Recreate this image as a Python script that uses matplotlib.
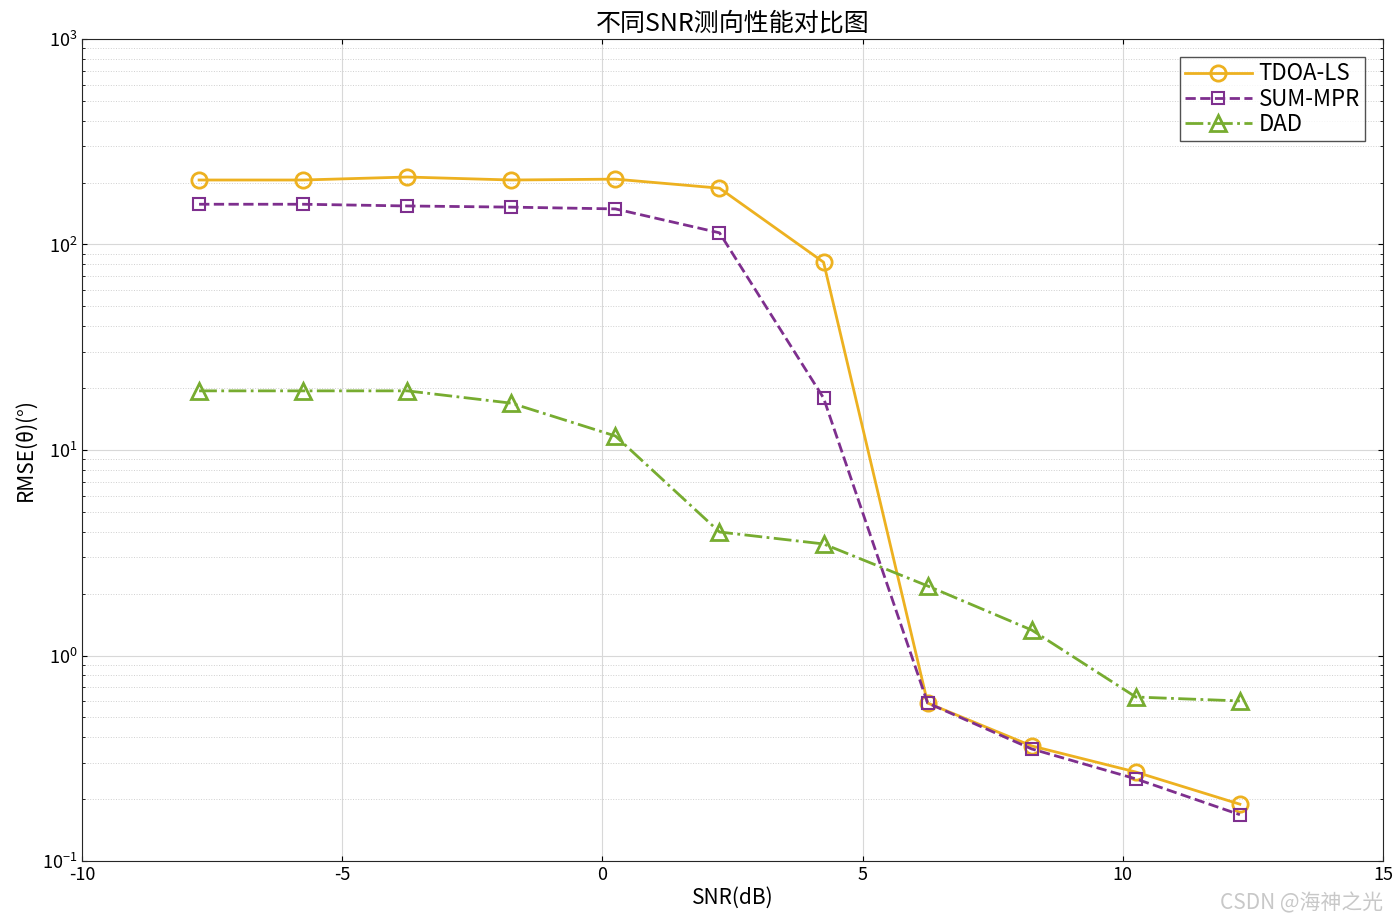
import matplotlib.pyplot as plt
import numpy as np

plt.rcParams['font.family'] = ['Noto Sans CJK SC', 'DejaVu Sans']
plt.rcParams['axes.unicode_minus'] = False

snr = [-7.75, -5.75, -3.75, -1.75, 0.25, 2.25, 4.25, 6.25, 8.25, 10.25, 12.25]
tdoa_ls = [206, 206, 213, 206, 208, 188, 82, 0.587, 0.363, 0.271, 0.189]
sum_mpr = [157, 157, 154, 152, 149, 114, 17.9, 0.587, 0.351, 0.251, 0.168]
dad = [19.4, 19.4, 19.4, 16.9, 11.7, 3.99, 3.49, 2.18, 1.33, 0.628, 0.601]

fig = plt.figure(figsize=(13.97, 9.24), dpi=100)
ax = fig.add_axes([82 / 1397, 1 - 861 / 924, (1383 - 82) / 1397, (861 - 39) / 924])

ax.semilogy(snr, tdoa_ls, '-o', color='#EDB120', lw=2, ms=11, mfc='none', mew=2, label='TDOA-LS')
ax.semilogy(snr, sum_mpr, '--s', color='#7E2F8E', lw=2, ms=9, mfc='none', mew=1.5, label='SUM-MPR')
ax.semilogy(snr, dad, '-.^', color='#77AC30', lw=2, ms=12, mfc='none', mew=2, label='DAD')

ax.set_xlim(-10, 15)
ax.set_ylim(0.1, 1000)
ax.set_xticks([-10, -5, 0, 5, 10, 15])
ax.grid(True, which='major', color='#d8d8d8', lw=0.8)
ax.grid(True, which='minor', color='#d0d0d0', lw=0.7, ls=':')
ax.tick_params(which='both', direction='in', top=True, right=True, labelsize=13)
for s in ax.spines.values():
    s.set_color('#262626')

ax.set_xlabel('SNR(dB)', fontsize=15, labelpad=2)
ax.set_ylabel('RMSE(θ)(°)', fontsize=15)
ax.set_title('不同SNR测向性能对比图', fontsize=18, pad=6)
leg = ax.legend(loc='upper right', fontsize=16, fancybox=False, edgecolor='#262626',
                handlelength=3, handletextpad=0.3, borderpad=0.25, labelspacing=0.1,
                borderaxespad=0.8)
leg.get_frame().set_linewidth(1)

fig.text(0.99, 0.01, 'CSDN @海神之光', ha='right', va='bottom', fontsize=15, color='#c8c8c8')
fig.savefig('out.png')
